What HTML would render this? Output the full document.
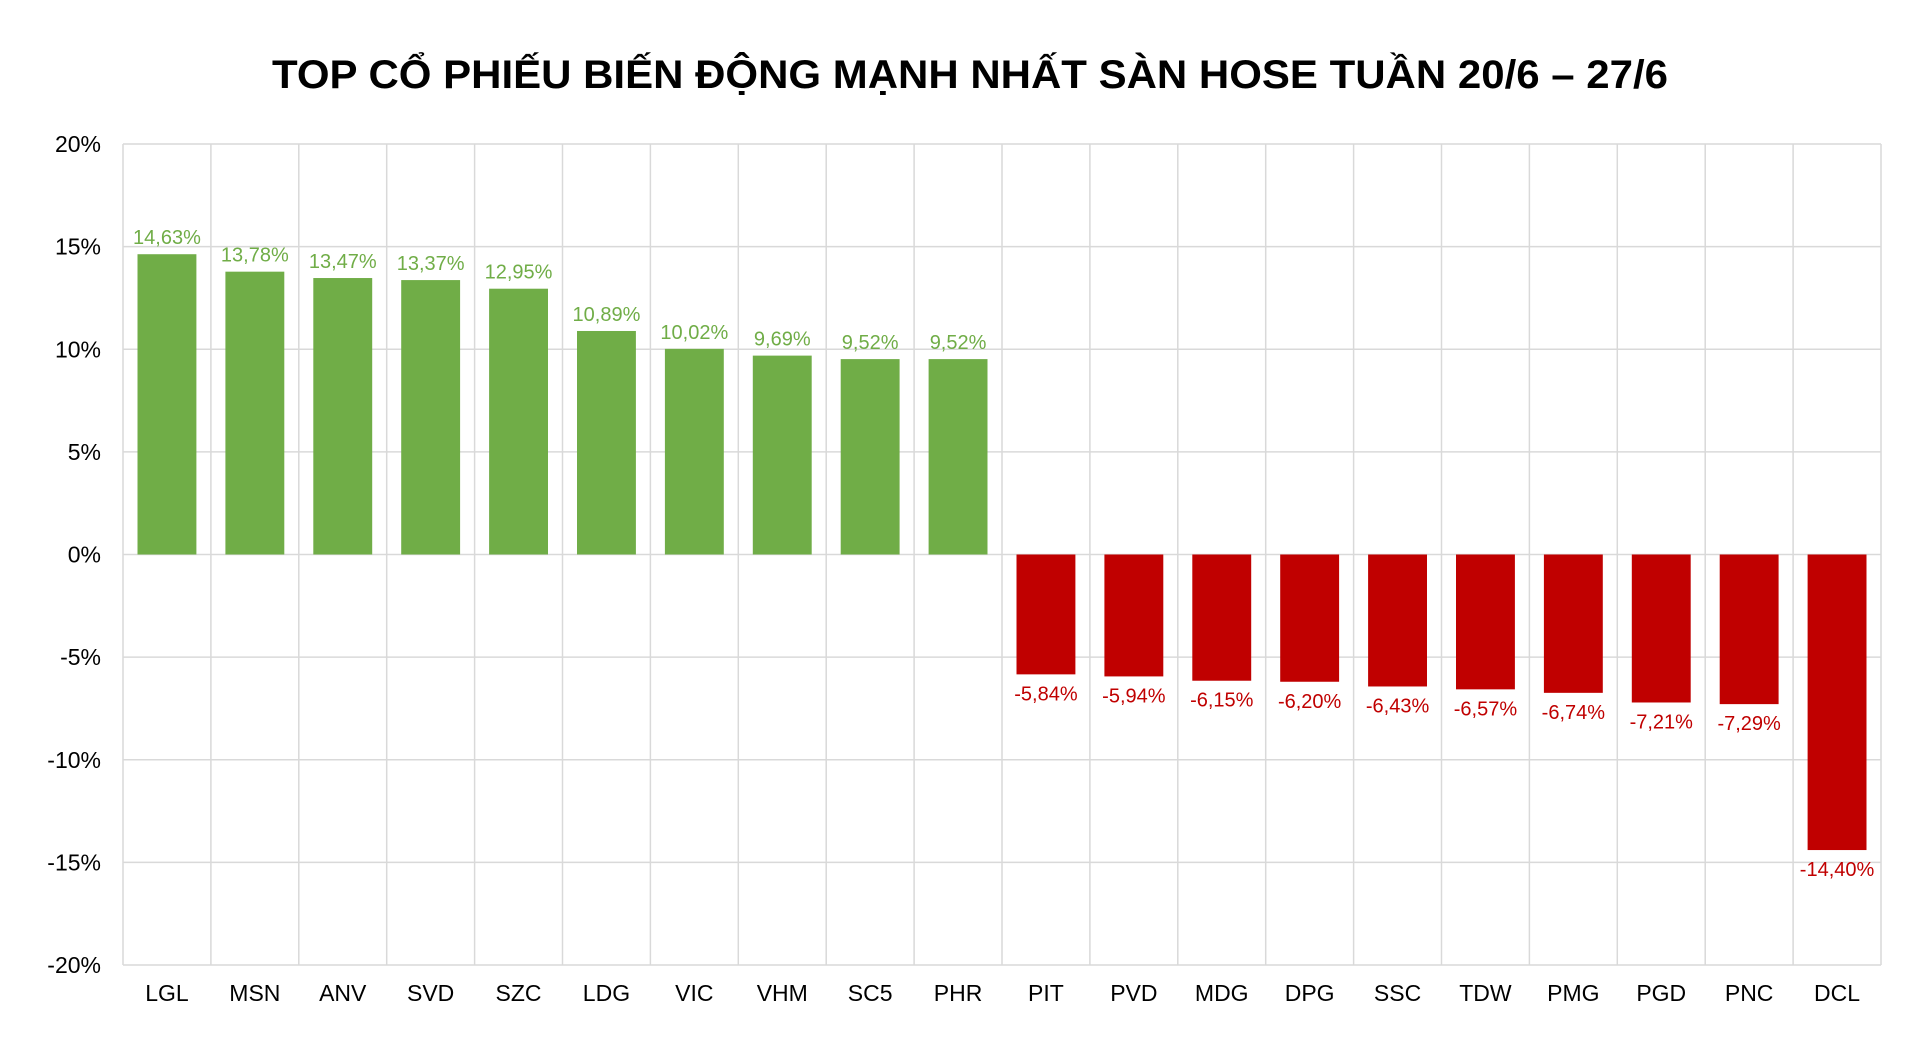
<!DOCTYPE html>
<html><head><meta charset="utf-8"><style>
html,body{margin:0;padding:0;background:#fff;}
svg{display:block;font-family:"Liberation Sans",Arial,sans-serif;}
</style></head><body>
<svg id="chart" width="1920" height="1039" viewBox="0 0 1920 1039">
<text x="970" y="88" text-anchor="middle" font-size="40" font-weight="bold" textLength="1396" lengthAdjust="spacingAndGlyphs">TOP CỔ PHIẾU BIẾN ĐỘNG MẠNH NHẤT SÀN HOSE TUẦN 20/6 – 27/6</text>
<g id="grid"></g>
<g id="bars"></g>
</svg>
<script>
const categories=["LGL","MSN","ANV","SVD","SZC","LDG","VIC","VHM","SC5","PHR","PIT","PVD","MDG","DPG","SSC","TDW","PMG","PGD","PNC","DCL"];
const values=[14.63,13.78,13.47,13.37,12.95,10.89,10.02,9.69,9.52,9.52,-5.84,-5.94,-6.15,-6.20,-6.43,-6.57,-6.74,-7.21,-7.29,-14.40];
const yTicks=[20,15,10,5,0,-5,-10,-15,-20];
const NS="http://www.w3.org/2000/svg";
const L=123,R=1881,T=144,B=965,yMin=-20,yMax=20;
const y=v=>T+(yMax-v)/(yMax-yMin)*(B-T);
const step=(R-L)/categories.length;
const x=i=>L+step*i;
function mk(tag,attrs,parent){const e=document.createElementNS(NS,tag);for(const k in attrs)e.setAttribute(k,attrs[k]);parent.appendChild(e);return e;}
const grid=document.getElementById('grid'),bars=document.getElementById('bars');
yTicks.forEach(t=>{
  const ln=mk('line',{x1:L,x2:R,y1:y(t),y2:y(t),stroke:'#d9d9d9','stroke-width':1.5},grid);
  
  
  const tx=mk('text',{x:101,y:y(t)+8,'text-anchor':'end','font-size':23,fill:'#000'},grid);
  tx.textContent=t+'%';
  
  
});
for(let i=0;i<=categories.length;i++){
  const ln=mk('line',{x1:x(i),x2:x(i),y1:T,y2:B,stroke:'#d9d9d9','stroke-width':1.5},grid);
  
  
}
const bw=step*0.67;
categories.forEach((c,i)=>{
  const v=values[i],cx=x(i)+step/2,col=v>=0?'#70AD47':'#C00000';
  const top=Math.min(y(v),y(0)),h=Math.abs(y(v)-y(0));
  const r=mk('rect',{x:cx-bw/2,y:top,width:bw,height:h,fill:col},bars);
  
  
  const lab=mk('text',{x:cx,y:v>=0?y(v)-10:y(v)+26,'text-anchor':'middle','font-size':20,fill:col},bars);
  lab.textContent=v.toFixed(2).replace('.',',')+'%';
  
  
  const xl=mk('text',{x:cx,y:1001,'text-anchor':'middle','font-size':23,fill:'#000'},bars);
  xl.textContent=c;
  
  
});
</script>
</body></html>
